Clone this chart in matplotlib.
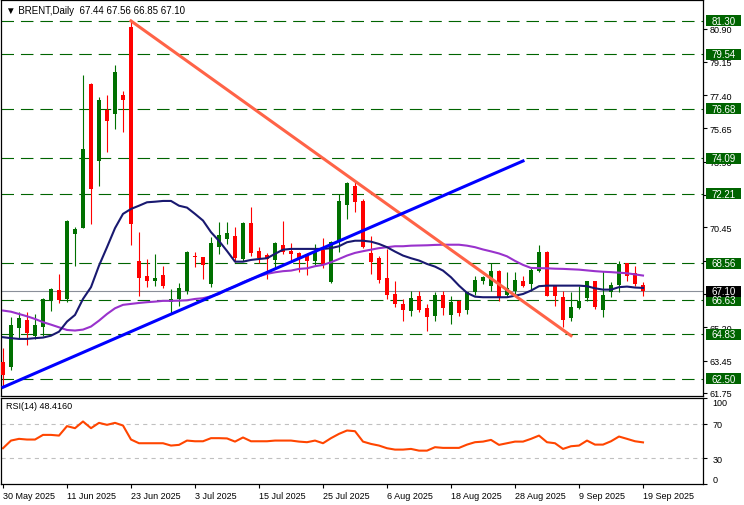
import matplotlib
matplotlib.use("Agg")
import matplotlib.pyplot as plt
from matplotlib.patches import Rectangle
from matplotlib.transforms import blended_transform_factory

plt.rcParams['font.family'] = ['Liberation Sans', 'DejaVu Sans']
plt.rcParams['lines.scale_dashes'] = False

# Daily OHLC, 30 May 2025 .. 19 Sep 2025 (one entry per bar)
OPEN = [63.40, 63.10, 65.18, 65.59, 64.76, 65.24, 66.66, 67.16, 66.69, 70.12,
        70.44, 77.99, 73.96, 76.64, 76.41, 77.41, 80.97, 68.69, 67.90, 67.65,
        67.95, 66.55, 66.69, 67.13, 68.94, 68.88, 67.48, 69.42, 69.85, 70.02,
        68.79, 70.69, 69.20, 69.00, 68.76, 69.53, 69.21, 69.11, 69.06, 68.70,
        69.27, 67.60, 69.76, 71.65, 72.65, 71.86, 69.09, 68.83, 67.80, 66.95,
        66.43, 66.08, 66.83, 66.22, 65.78, 66.90, 65.85, 66.60, 66.11, 67.04,
        67.62, 67.39, 68.18, 66.90, 67.13, 67.62, 67.45, 68.18, 69.18, 67.36,
        66.78, 65.69, 66.22, 66.74, 67.62, 66.13, 67.08, 67.44, 68.57, 68.04,
        67.44]
HIGH = [64.12, 65.73, 65.99, 65.99, 65.89, 66.72, 67.25, 68.00, 70.83, 70.46,
        78.46, 78.02, 77.29, 77.41, 78.99, 77.64, 81.30, 70.20, 68.79, 69.04,
        68.44, 67.22, 67.53, 69.23, 69.14, 68.90, 69.93, 70.72, 70.72, 70.46,
        70.75, 71.51, 69.41, 69.11, 69.67, 70.79, 69.63, 69.14, 69.10, 69.58,
        69.90, 69.75, 72.21, 72.81, 72.86, 71.95, 70.02, 68.97, 69.32, 67.65,
        66.69, 67.13, 67.13, 66.43, 67.04, 67.13, 66.83, 66.62, 67.08, 67.92,
        67.92, 68.57, 68.20, 68.09, 68.09, 67.92, 68.36, 69.53, 69.23, 67.38,
        67.13, 67.04, 67.36, 67.62, 67.64, 68.18, 67.57, 68.70, 68.60, 68.44,
        67.56]
LOW = [62.12, 62.95, 64.63, 64.29, 64.59, 64.76, 66.08, 66.48, 66.52, 68.41,
       70.40, 70.63, 72.65, 74.43, 75.62, 75.48, 69.53, 66.83, 67.34, 67.39,
       67.25, 65.90, 66.34, 66.95, 68.36, 67.74, 67.31, 69.06, 69.58, 68.62,
       68.71, 68.97, 68.58, 67.74, 68.27, 69.06, 68.76, 68.12, 67.95, 68.48,
       68.30, 67.53, 69.18, 70.90, 71.28, 69.36, 68.00, 67.53, 66.69, 66.26,
       65.55, 65.81, 66.00, 65.03, 65.55, 65.85, 65.38, 65.78, 65.90, 66.90,
       67.48, 67.13, 66.60, 66.78, 66.95, 67.31, 67.13, 68.09, 66.83, 66.34,
       65.20, 65.55, 66.17, 66.60, 66.17, 65.73, 66.78, 67.04, 67.65, 67.39,
       66.85]
CLOSE = [62.70, 65.33, 65.69, 64.90, 65.33, 66.69, 67.22, 66.62, 70.77, 70.37,
         74.57, 72.47, 77.15, 76.06, 78.64, 77.15, 70.63, 67.81, 67.65, 67.80,
         67.39, 66.69, 67.27, 69.18, 68.87, 68.49, 69.63, 70.05, 70.16, 68.85,
         70.69, 69.11, 68.85, 68.79, 69.63, 69.18, 69.06, 68.83, 68.67, 69.23,
         68.48, 69.70, 71.86, 72.79, 71.77, 69.41, 68.65, 67.71, 66.90, 66.43,
         66.13, 66.73, 66.13, 65.73, 66.90, 66.20, 66.52, 65.96, 67.04, 67.71,
         67.86, 68.18, 66.78, 67.25, 67.69, 67.39, 68.22, 69.18, 66.87, 66.87,
         65.60, 66.26, 66.60, 67.62, 66.29, 66.90, 67.44, 68.53, 67.92, 67.48,
         67.10]

# moving averages as drawn on the chart
MA_FAST = [64.68, 64.63, 64.59, 64.59, 64.63, 64.66, 64.76, 64.97, 65.50, 65.85,
           66.69, 67.31, 68.44, 69.41, 70.41, 71.16, 71.42, 71.59, 71.77, 71.80,
           71.84, 71.84, 71.59, 71.49, 71.16, 70.81, 70.20, 69.74, 69.21, 68.65,
           68.65, 68.74, 68.79, 68.83, 69.06, 69.28, 69.32, 69.32, 69.32, 69.32,
           69.32, 69.36, 69.46, 69.67, 69.75, 69.75, 69.70, 69.58, 69.41, 69.18,
           68.97, 68.83, 68.71, 68.53, 68.39, 68.18, 67.83, 67.39, 67.01, 66.81,
           66.78, 66.78, 66.78, 66.78, 66.86, 66.95, 67.13, 67.36, 67.39, 67.39,
           67.39, 67.39, 67.39, 67.36, 67.25, 67.18, 67.18, 67.31, 67.34, 67.29,
           67.27]
MA_SLOW = [66.08, 66.02, 65.90, 65.78, 65.64, 65.47, 65.34, 65.20, 65.06, 65.03,
           65.08, 65.24, 65.55, 65.90, 66.20, 66.38, 66.43, 66.48, 66.52, 66.55,
           66.59, 66.59, 66.60, 66.62, 66.69, 66.73, 66.83, 66.95, 67.19, 67.35,
           67.57, 67.74, 67.88, 68.01, 68.09, 68.15, 68.18, 68.27, 68.30, 68.41,
           68.48, 68.62, 68.79, 68.97, 69.11, 69.20, 69.28, 69.36, 69.41, 69.46,
           69.46, 69.49, 69.50, 69.51, 69.53, 69.54, 69.54, 69.54, 69.49, 69.41,
           69.29, 69.19, 69.08, 68.93, 68.69, 68.48, 68.32, 68.31, 68.30, 68.28,
           68.27, 68.25, 68.23, 68.19, 68.15, 68.12, 68.10, 68.07, 68.04, 67.98,
           67.92]

RSI = [41.6, 50.5, 52.5, 51.7, 51.7, 57.1, 57.1, 56.3, 67.3, 64.9,
       72.7, 64.9, 71.1, 68.8, 71.1, 68.0, 51.7, 47.4, 47.4, 47.4,
       47.4, 44.7, 45.5, 50.5, 49.7, 49.7, 53.3, 53.3, 53.0, 49.3,
       54.1, 49.7, 49.7, 49.7, 50.5, 50.5, 50.5, 49.3, 48.6, 50.5,
       47.4, 53.3, 58.3, 62.2, 61.4, 49.3, 46.6, 44.7, 41.6, 40.0,
       40.0, 40.8, 38.8, 38.8, 42.8, 42.0, 42.0, 42.0, 45.8, 48.6,
       49.3, 51.3, 45.5, 47.4, 49.3, 49.3, 52.5, 56.3, 48.6, 47.4,
       40.8, 43.9, 44.7, 50.5, 45.8, 45.8, 49.7, 55.2, 52.5, 49.7,
       48.4]

# trendlines: (bar index, price) anchors
DOWN_LINE_X = [16, 71]
DOWN_LINE_Y = [81.30, 64.76]
UP_LINE_X = [0, 65]
UP_LINE_Y = [62.05, 73.94]

LEVELS = [81.30, 79.54, 76.68, 74.09, 72.21, 68.56, 66.63, 64.83, 62.50]
LAST_PRICE = 67.10
PRICE_TICKS = [80.90, 79.15, 77.40, 75.65, 73.90, 72.15, 70.45, 68.70, 66.95,
               65.20, 63.45, 61.75]
# these scale labels sit fully under a level box on the chart
HIDDEN_TICKS = [72.15, 68.70, 66.95]
DATE_POS = [0, 8, 16, 24, 32, 40, 48, 56, 64, 72, 80]
DATE_LABELS = ["30 May 2025", "11 Jun 2025", "23 Jun 2025", "3 Jul 2025",
               "15 Jul 2025", "25 Jul 2025", "6 Aug 2025", "18 Aug 2025",
               "28 Aug 2025", "9 Sep 2025", "19 Sep 2025"]
RSI_TICKS = [100, 70, 30, 0]

W, H = 744, 506
fig = plt.figure(figsize=(W / 100, H / 100), dpi=100)
ax = fig.add_axes([1 / W, (H - 397) / H, 702 / W, 396 / H])
rx = fig.add_axes([1 / W, (H - 485) / H, 702 / W, 86 / H])

FS = 6.5
GREEN = '#007000'
DKGREEN = '#006400'

# --- price panel
for lv in LEVELS:
    ax.axhline(lv, color=DKGREEN, lw=0.8, ls=(0, (9, 5)), zorder=1)
ax.axhline(LAST_PRICE, color='#8a8f99', lw=0.8, zorder=1)

for i in range(len(OPEN)):
    o, h, l, c = OPEN[i], HIGH[i], LOW[i], CLOSE[i]
    col = GREEN if c >= o else '#ff0000'
    ax.vlines(i, l, h, color=col, lw=0.8, zorder=2)
    ax.bar(i, max(abs(c - o), 0.06), bottom=min(o, c), width=0.62,
           color=col, lw=0, zorder=3)

xs = list(range(len(OPEN)))
ax.plot(xs, MA_SLOW, color='#9932cc', lw=1.5, zorder=4)
ax.plot(xs, MA_FAST, color='#191970', lw=1.5, zorder=4)
ax.plot(DOWN_LINE_X, DOWN_LINE_Y, color='#ff6347', lw=2.2, zorder=5)
ax.plot(UP_LINE_X, UP_LINE_Y, color='#0000ff', lw=2.2, zorder=5)

ax.set_xlim(-0.25, 87.5)
ax.set_ylim(61.59, 82.40)
ax.set_xticks([])
ax.yaxis.tick_right()
ax.set_yticks(PRICE_TICKS)
ax.set_yticklabels(["" if v in HIDDEN_TICKS else f"{v:.2f}" for v in PRICE_TICKS])
ax.tick_params(axis='y', length=3, width=0.8, pad=2, labelsize=FS)
for s in ax.spines.values():
    s.set_linewidth(0.9)

trans = blended_transform_factory(ax.transAxes, ax.transData)
box_h = 11 / 19.03
box_x0, box_w = 1.0045, 0.049
for lv in LEVELS:
    ax.add_patch(Rectangle((box_x0, lv - box_h / 2), box_w, box_h, transform=trans,
                           fc=DKGREEN, ec='none', clip_on=False, zorder=10))
    ax.text(box_x0 + box_w / 2, lv, f"{lv:.2f}", transform=trans, ha='center',
            va='center', color='white', fontsize=7, zorder=11, clip_on=False)
ax.add_patch(Rectangle((box_x0, LAST_PRICE - box_h / 2), box_w, box_h, transform=trans,
                       fc='black', ec='none', clip_on=False, zorder=10))
ax.text(box_x0 + box_w / 2, LAST_PRICE, f"{LAST_PRICE:.2f}", transform=trans,
        ha='center', va='center', color='white', fontsize=7, zorder=11, clip_on=False)

ax.text(5 / 702, 1 - 10 / 396, "\u25bc BRENT,Daily  67.44 67.56 66.85 67.10",
        transform=ax.transAxes, fontsize=7, va='center', ha='left', color='black')

# --- RSI panel
rx.axhline(70, color='#c0c0c0', lw=0.8, ls=(0, (3, 3)))
rx.axhline(30, color='#c0c0c0', lw=0.8, ls=(0, (3, 3)))
rx.plot(xs, RSI, color='#ff4500', lw=1.5)
rx.set_xlim(-0.25, 87.5)
rx.set_ylim(0, 100)
rx.yaxis.tick_right()
rx.set_yticks(RSI_TICKS)
rx.set_yticklabels([str(v) for v in RSI_TICKS])
rx.tick_params(axis='y', length=3, width=0.8, pad=4, labelsize=FS)
ylabels = rx.get_yticklabels()
ylabels[0].set_va('top')
ylabels[-1].set_va('bottom')
rx.set_xticks(DATE_POS)
rx.set_xticklabels(DATE_LABELS)
rx.tick_params(axis='x', length=3, width=0.8, pad=2, labelsize=FS)
for lab in rx.get_xticklabels():
    lab.set_ha('left')
for s in rx.spines.values():
    s.set_linewidth(0.9)
rx.text(5 / 702, 1 - 8 / 86, "RSI(14) 48.4160", transform=rx.transAxes,
        fontsize=FS, va='center', ha='left', color='black')

fig.savefig("out.png", dpi=100)
